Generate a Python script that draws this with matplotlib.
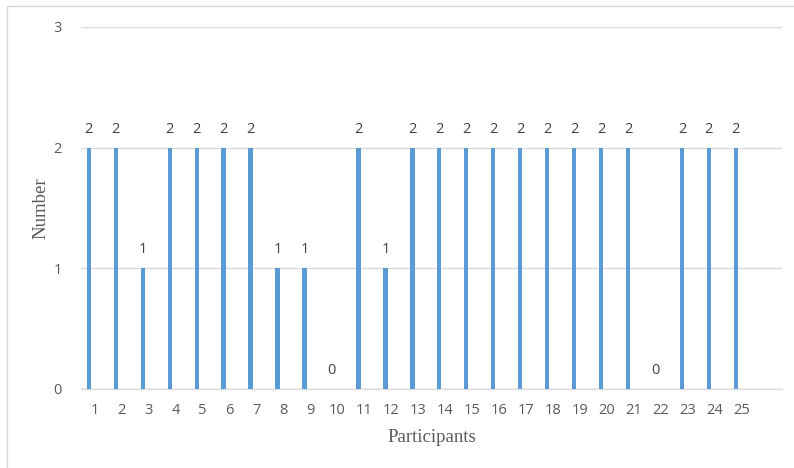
import matplotlib.pyplot as plt
from matplotlib.patches import Rectangle
import numpy as np

# participant ids and number per participant
participants = list(range(1, 26))
numbers = [2, 2, 1, 2, 2, 2, 2, 1, 1, 0, 2, 1, 2, 2, 2, 2, 2, 2, 2, 2, 2, 0, 2, 2, 2]

bar_color = '#5B9BD5'
grid_color = '#D9D9D9'
text_color = '#595959'
sans = ['Open Sans', 'DejaVu Sans']
serif = ['Liberation Serif', 'DejaVu Serif']

fig = plt.figure(figsize=(7.94, 4.68), dpi=100)
ax = fig.add_axes([81 / 794, 1 - 389 / 468, (782 - 81) / 794, (389 - 27) / 468])

x = np.array(participants)
# bars sit left of the category centre (clustered-column look)
ax.bar(x - 0.21, numbers, width=0.16, color=bar_color, zorder=3)

for xi, v in zip(x, numbers):
    ax.annotate(str(v), xy=(xi - 0.21, v), xytext=(0, 8), textcoords='offset points',
                ha='center', va='bottom', fontsize=10.5, color='#404040', family=sans)

ax.set_xlim(0.5, 26.5)
ax.set_ylim(0, 3)
ax.set_xticks(x)
ax.set_xticklabels([str(p) for p in participants], family=sans, fontsize=10.5, color=text_color)
ax.set_yticks([0, 1, 2, 3])
ax.set_yticklabels(['0', '1', '2', '3'], family=sans, fontsize=10.5, color=text_color)
ax.tick_params(axis='both', length=0)
ax.tick_params(axis='y', pad=14)
ax.tick_params(axis='x', pad=10)

ax.yaxis.grid(True, color=grid_color, linewidth=1)
ax.set_axisbelow(True)
for side in ['top', 'right', 'left']:
    ax.spines[side].set_visible(False)
ax.spines['bottom'].set_color(grid_color)
ax.spines['bottom'].set_linewidth(1)

fig.text(432 / 794, 1 - 438 / 468, 'Participants', ha='center', va='center',
         family=serif, fontsize=13.5, color=text_color)
fig.text(41 / 794, 1 - 208 / 468, 'Number', ha='center', va='center', rotation=90,
         family=serif, fontsize=13.5, color=text_color)

# outer chart border (right and bottom edges fall outside the crop)
fig.add_artist(Rectangle((7 / 794, -0.05), 1.2, 1.05 - 6 / 468, transform=fig.transFigure,
                         fill=False, edgecolor=grid_color, linewidth=1))

fig.savefig('out.png', dpi=100)
